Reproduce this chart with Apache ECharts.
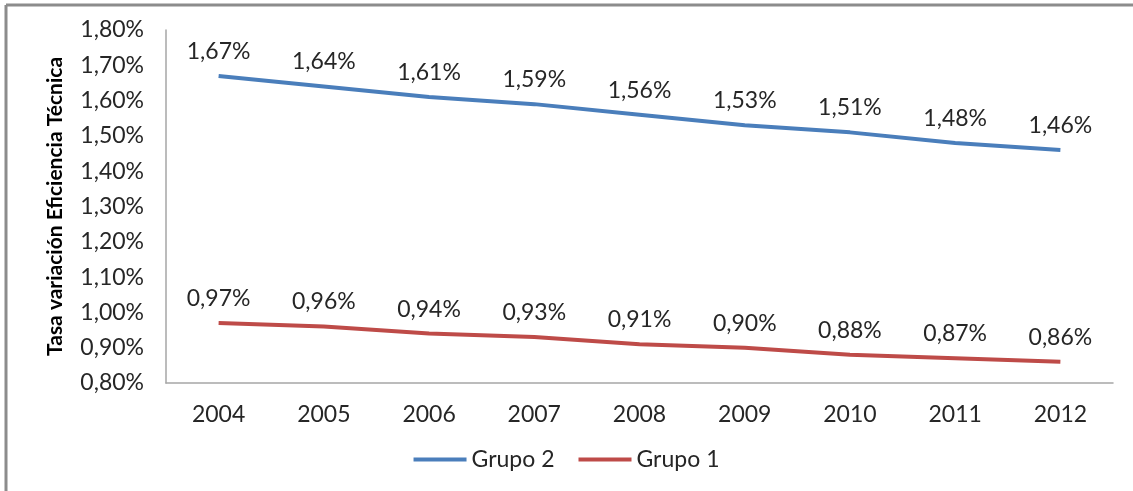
<!DOCTYPE html>
<html>
<head>
<meta charset="utf-8">
<script src="https://cdn.jsdelivr.net/npm/echarts@6/dist/echarts.min.js"></script>
<style>
html, body { margin: 0; padding: 0; background: #fff; }
#chart { width: 1133px; height: 491px; }
</style>
</head>
<body>
<div id="chart"></div>
<script>
// datos
var years = ['2004', '2005', '2006', '2007', '2008', '2009', '2010', '2011', '2012'];
var grupo2 = [1.67, 1.64, 1.61, 1.59, 1.56, 1.53, 1.51, 1.48, 1.46];
var grupo1 = [0.97, 0.96, 0.94, 0.93, 0.91, 0.90, 0.88, 0.87, 0.86];

function pct(v) {
	return v.toFixed(2).replace('.', ',') + '%';
}

var myChart = echarts.init(document.getElementById('chart'));

option = {
	animation: false,
	textStyle: { fontFamily: 'Lato' },
	graphic: [
		{ type: 'line', shape: { x1: 6, y1: 5, x2: 1133, y2: 5 }, style: { stroke: '#8c8c8c', lineWidth: 3 } },
		{ type: 'line', shape: { x1: 6, y1: 5, x2: 6, y2: 491 }, style: { stroke: '#8c8c8c', lineWidth: 3 } }
	],
	grid: { left: 166, right: 20, top: 30, bottom: 108 },
	legend: {
		bottom: 15,
		left: 'center',
		itemWidth: 53,
		itemHeight: 4,
		itemGap: 24,
		icon: 'rect',
		textStyle: { fontFamily: 'Lato', fontSize: 23, color: '#262626' },
		data: ['Grupo 2', 'Grupo 1']
	},
	xAxis: {
		type: 'category',
		data: years,
		boundaryGap: true,
		axisLine: { lineStyle: { color: '#a6a6a6', width: 1.5 } },
		axisTick: { show: false },
		axisLabel: { fontFamily: 'Lato', fontSize: 23, color: '#262626', margin: 20 }
	},
	yAxis: {
		type: 'value',
		min: 0.8,
		max: 1.8,
		interval: 0.1,
		name: 'Tasa variación Eficiencia Técnica',
		nameLocation: 'middle',
		nameGap: 100,
		nameTextStyle: { fontFamily: 'Lato', fontSize: 21, fontWeight: 'bold', color: '#000' },
		axisLine: { show: true, lineStyle: { color: '#a6a6a6', width: 1.5 } },
		axisTick: { show: false },
		splitLine: { show: false },
		axisLabel: {
			fontFamily: 'Lato', fontSize: 23, color: '#262626', margin: 22,
			formatter: function (v) { return pct(v); }
		}
	},
	series: [
		{
			name: 'Grupo 2',
			type: 'line',
			data: grupo2,
			color: '#4a7ebb',
			lineStyle: { width: 4, color: '#4a7ebb' },
			symbol: 'circle',
			symbolSize: 0,
			showSymbol: true,
			label: {
				show: true, position: 'top', distance: 13,
				fontFamily: 'Lato', fontSize: 23, color: '#262626',
				formatter: function (p) { return pct(p.value); }
			}
		},
		{
			name: 'Grupo 1',
			type: 'line',
			data: grupo1,
			color: '#be4b48',
			lineStyle: { width: 4, color: '#be4b48' },
			symbol: 'circle',
			symbolSize: 0,
			showSymbol: true,
			label: {
				show: true, position: 'top', distance: 13,
				fontFamily: 'Lato', fontSize: 23, color: '#262626',
				formatter: function (p) { return pct(p.value); }
			}
		}
	]
};
myChart.setOption(option);
</script>
</body>
</html>
